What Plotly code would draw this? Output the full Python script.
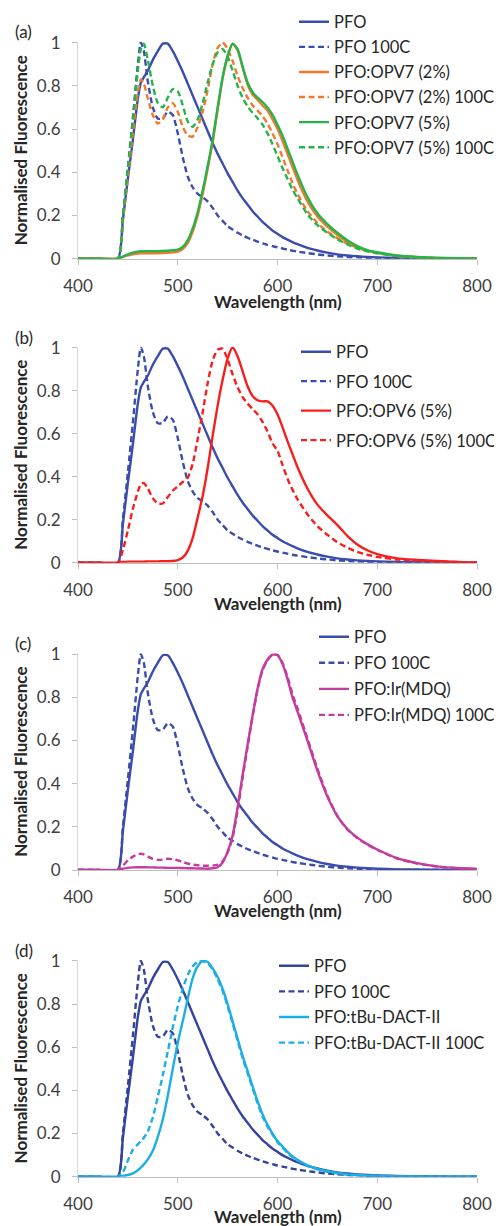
import plotly.graph_objects as go

# ---------------- data ----------------
wavelength = [400, 420, 440, 445, 450, 455, 460, 463, 466, 470, 475, 480, 485, 490, 495,
              500, 505, 510, 515, 520, 525, 530, 535, 540, 545, 550, 555, 560, 565, 570,
              575, 580, 585, 590, 595, 600, 605, 610, 615, 620, 630, 640, 650, 660, 670,
              680, 690, 700, 720, 740, 760, 780, 800]

pfo = [0, 0, 0, 0.18, 0.37, 0.55, 0.74, 0.815, 0.84, 0.87, 0.92, 0.96, 0.995, 0.995, 0.96,
       0.915, 0.865, 0.81, 0.755, 0.70, 0.645, 0.59, 0.535, 0.485, 0.44, 0.395, 0.355, 0.315, 0.28, 0.25,
       0.22, 0.195, 0.17, 0.15, 0.13, 0.115, 0.10, 0.088, 0.077, 0.067, 0.05, 0.038, 0.028, 0.02, 0.015,
       0.011, 0.008, 0.006, 0.003, 0.002, 0.001, 0, 0]

pfo_100c = [0, 0, 0, 0.2, 0.42, 0.65, 0.9, 1.0, 0.96, 0.82, 0.70, 0.648, 0.65, 0.68, 0.665,
            0.58, 0.47, 0.38, 0.33, 0.30, 0.285, 0.265, 0.235, 0.20, 0.175, 0.15, 0.135, 0.12, 0.108, 0.097,
            0.088, 0.079, 0.071, 0.064, 0.058, 0.052, 0.047, 0.042, 0.037, 0.033, 0.026, 0.02, 0.015, 0.011, 0.008,
            0.006, 0.004, 0.003, 0.001, 0, 0, 0, 0]

opv7_2 = [0, 0, 0, 0.008, 0.015, 0.02, 0.024, 0.025, 0.025, 0.025, 0.025, 0.025, 0.026, 0.027, 0.029,
          0.033, 0.045, 0.072, 0.125, 0.2, 0.30, 0.415, 0.54, 0.69, 0.835, 0.935, 0.995, 0.965, 0.885, 0.805,
          0.76, 0.735, 0.71, 0.685, 0.645, 0.60, 0.545, 0.485, 0.425, 0.365, 0.265, 0.195, 0.148, 0.11, 0.078,
          0.053, 0.037, 0.027, 0.013, 0.007, 0.003, 0.001, 0]

opv7_2_100c = [0, 0, 0, 0.18, 0.38, 0.58, 0.77, 0.83, 0.81, 0.74, 0.665, 0.625, 0.645, 0.70, 0.72,
               0.68, 0.61, 0.57, 0.565, 0.61, 0.68, 0.78, 0.90, 0.975, 1.0, 0.97, 0.915, 0.845, 0.79, 0.745,
               0.71, 0.685, 0.66, 0.625, 0.58, 0.53, 0.47, 0.41, 0.35, 0.30, 0.22, 0.165, 0.125, 0.095, 0.07,
               0.05, 0.036, 0.027, 0.013, 0.007, 0.003, 0.001, 0]

opv7_5 = [0, 0, 0, 0.01, 0.02, 0.028, 0.033, 0.035, 0.035, 0.035, 0.035, 0.035, 0.036, 0.037, 0.039,
          0.042, 0.055, 0.085, 0.14, 0.215, 0.315, 0.43, 0.55, 0.70, 0.84, 0.94, 0.995, 0.97, 0.89, 0.815,
          0.77, 0.745, 0.725, 0.70, 0.665, 0.62, 0.57, 0.51, 0.45, 0.39, 0.285, 0.21, 0.16, 0.12, 0.085,
          0.058, 0.04, 0.03, 0.015, 0.008, 0.004, 0.002, 0]

opv7_5_100c = [0, 0, 0, 0.2, 0.42, 0.64, 0.87, 0.97, 0.995, 0.92, 0.80, 0.72, 0.70, 0.745, 0.785,
               0.775, 0.71, 0.635, 0.61, 0.645, 0.72, 0.815, 0.90, 0.955, 0.97, 0.935, 0.87, 0.80, 0.745, 0.705,
               0.675, 0.65, 0.62, 0.58, 0.53, 0.475, 0.42, 0.37, 0.32, 0.28, 0.205, 0.155, 0.12, 0.09, 0.066,
               0.047, 0.034, 0.025, 0.012, 0.006, 0.003, 0.001, 0]

opv6_5 = [0, 0, 0, 0.003, 0.005, 0.005, 0.005, 0.005, 0.005, 0.006, 0.006, 0.006, 0.007, 0.007, 0.008,
          0.012, 0.024, 0.055, 0.115, 0.21, 0.31, 0.44, 0.59, 0.73, 0.85, 0.95, 1.0, 0.96, 0.89, 0.82,
          0.775, 0.755, 0.75, 0.75, 0.73, 0.69, 0.63, 0.565, 0.505, 0.445, 0.345, 0.27, 0.22, 0.175, 0.125,
          0.085, 0.058, 0.04, 0.02, 0.013, 0.008, 0.004, 0]

opv6_5_100c = [0, 0, 0, 0.06, 0.15, 0.25, 0.33, 0.365, 0.37, 0.345, 0.30, 0.275, 0.275, 0.305, 0.335,
               0.355, 0.375, 0.395, 0.46, 0.575, 0.70, 0.835, 0.94, 0.99, 0.995, 0.945, 0.875, 0.815, 0.77, 0.74,
               0.715, 0.69, 0.655, 0.61, 0.555, 0.52, 0.455, 0.39, 0.34, 0.295, 0.225, 0.17, 0.13, 0.095, 0.07,
               0.05, 0.037, 0.027, 0.015, 0.01, 0.006, 0.003, 0]

irmdq = [0, 0, 0, 0.006, 0.01, 0.012, 0.013, 0.013, 0.013, 0.012, 0.012, 0.011, 0.011, 0.01, 0.01,
         0.01, 0.009, 0.008, 0.008, 0.007, 0.007, 0.006, 0.008, 0.013, 0.035, 0.085, 0.16, 0.29, 0.44, 0.58,
         0.715, 0.84, 0.93, 0.975, 0.998, 0.995, 0.955, 0.885, 0.80, 0.735, 0.60, 0.46, 0.34, 0.25, 0.19,
         0.15, 0.12, 0.095, 0.055, 0.032, 0.017, 0.009, 0.005]

irmdq_100c = [0, 0, 0, 0.02, 0.045, 0.062, 0.073, 0.075, 0.072, 0.062, 0.052, 0.047, 0.048, 0.052, 0.05,
              0.045, 0.037, 0.03, 0.025, 0.022, 0.02, 0.02, 0.021, 0.025, 0.04, 0.08, 0.15, 0.275, 0.425, 0.57,
              0.71, 0.835, 0.925, 0.972, 0.997, 0.997, 0.96, 0.895, 0.815, 0.75, 0.61, 0.47, 0.345, 0.25, 0.188,
              0.148, 0.118, 0.093, 0.053, 0.03, 0.016, 0.008, 0.004]

dact = [0, 0, 0, 0.003, 0.008, 0.015, 0.03, 0.042, 0.057, 0.08, 0.12, 0.185, 0.265, 0.375, 0.50,
        0.62, 0.72, 0.825, 0.92, 0.975, 1.0, 0.995, 0.965, 0.925, 0.87, 0.80, 0.72, 0.64, 0.56, 0.49,
        0.42, 0.35, 0.29, 0.24, 0.20, 0.165, 0.14, 0.115, 0.095, 0.078, 0.053, 0.036, 0.025, 0.017, 0.011,
        0.008, 0.005, 0.004, 0.002, 0.001, 0, 0, 0]

dact_100c = [0, 0, 0, 0.02, 0.075, 0.125, 0.15, 0.165, 0.18, 0.21, 0.275, 0.37, 0.47, 0.58, 0.69,
             0.79, 0.87, 0.935, 0.975, 0.995, 0.998, 0.99, 0.96, 0.915, 0.86, 0.79, 0.71, 0.63, 0.55, 0.48,
             0.41, 0.34, 0.28, 0.232, 0.195, 0.16, 0.135, 0.11, 0.09, 0.075, 0.05, 0.034, 0.023, 0.016, 0.01,
             0.007, 0.005, 0.003, 0.002, 0.001, 0, 0, 0]

panel_labels = ["(a)", "(b)", "(c)", "(d)"]
x_title = "Wavelength (nm)"
y_title = "Normalised Fluorescence"
x_ticks = [400, 500, 600, 700, 800]
y_ticks = [0, 0.2, 0.4, 0.6, 0.8, 1]

# ---------------- styling ----------------
# the page body has an 8px default margin, so the figure is drawn 8px in from the window corner
OFF = 8
PAGE_W, PAGE_H = 502, 1226
W, H = PAGE_W - OFF, PAGE_H - OFF
BLUE = "#3A4DAE"
BLUE_D = "#34439E"
ORANGE = "#EF7A2E"
GREEN = "#26B44A"
RED = "#F5201E"
MAGENTA = "#C43C9E"
CYAN = "#1DAEE6"
FONT = "Lato"
TXT = "#404040"
DARK = "#262626"
LEG_FS = 16.5


def fx(px):
    return (px - OFF) / W


def fy(py):
    return 1 - (py - OFF) / H


panels = [
    [("PFO", pfo, BLUE, "solid"), ("PFO 100C", pfo_100c, BLUE, "dash"),
     ("PFO:OPV7 (2%)", opv7_2, ORANGE, "solid"), ("PFO:OPV7 (2%) 100C", opv7_2_100c, ORANGE, "dash"),
     ("PFO:OPV7 (5%)", opv7_5, GREEN, "solid"), ("PFO:OPV7 (5%) 100C", opv7_5_100c, GREEN, "dash")],
    [("PFO", pfo, BLUE, "solid"), ("PFO 100C", pfo_100c, BLUE, "dash"),
     ("PFO:OPV6 (5%)", opv6_5, RED, "solid"), ("PFO:OPV6 (5%) 100C", opv6_5_100c, RED, "dash")],
    [("PFO", pfo, BLUE, "solid"), ("PFO 100C", pfo_100c, BLUE, "dash"),
     ("PFO:Ir(MDQ)", irmdq, MAGENTA, "solid"), ("PFO:Ir(MDQ) 100C", irmdq_100c, MAGENTA, "dash")],
    [("PFO", pfo, BLUE_D, "solid"), ("PFO 100C", pfo_100c, BLUE_D, "dash"),
     ("PFO:tBu-DACT-II", dact, CYAN, "solid"), ("PFO:tBu-DACT-II 100C", dact_100c, CYAN, "dash")],
]

# plot areas in page pixels (top, bottom)
plot_px = [(41.7, 258.7), (346.7, 562.7), (653.3, 870.0), (960.0, 1176.7)]
x_px = (78.0, 477.0)
# legend: left, top (page px), group gap
legend_pos = [(294, 4.5, 0.65), (296, 334.5, 5.0), (314, 619.5, 1.6), (274, 948.5, 1.2)]
label_pos = [(13, 32), (13, 337), (13, 643), (13, 950)]
xtitle_off = [42.5, 40.5, 40.0, 40.0]

fig = go.Figure()
layout = dict(
    width=W, height=H, margin=dict(l=0, r=0, t=0, b=0, autoexpand=False),
    paper_bgcolor="white", plot_bgcolor="white", font=dict(family=FONT, size=17, color=TXT),
    annotations=[],
)

for i, series in enumerate(panels):
    n = "" if i == 0 else str(i + 1)
    xa, ya = "x" + n, "y" + n
    leg = "legend" + n
    for j, (name, vals, color, dash) in enumerate(series):
        fig.add_trace(go.Scatter(
            x=wavelength, y=vals, name=name, mode="lines",
            line=dict(color=color, width=2.4, dash="6px,3.5px" if dash == "dash" else "solid",
                      shape="spline", smoothing=0.6),
            xaxis=xa, yaxis=ya, legend=leg, legendgroup=f"g{i}_{j}", showlegend=True,
        ))
    top, bot = plot_px[i]
    layout["xaxis" + n] = dict(
        domain=[fx(x_px[0]), fx(x_px[1])], anchor=ya, range=[400, 800],
        tickvals=x_ticks, ticks="outside", ticklen=5, tickcolor="#BFBFBF", tickwidth=1,
        showline=True, linecolor="#BFBFBF", linewidth=1, showgrid=False, zeroline=False,
        tickfont=dict(size=17, color=TXT), ticklabelstandoff=7,
    )
    layout["yaxis" + n] = dict(
        domain=[fy(bot), fy(top)], anchor=xa, range=[0, 1.004],
        tickvals=y_ticks, ticks="outside", ticklen=5, tickcolor="#BFBFBF", tickwidth=1,
        showline=True, linecolor="#D9D9D9", linewidth=1, showgrid=False, zeroline=False,
        tickfont=dict(size=17, color=TXT), ticklabelstandoff=8,
        title=dict(text=f"<b>{y_title}</b>", font=dict(size=17, color=DARK), standoff=4),
    )
    lx, ly, gap = legend_pos[i]
    layout[leg] = dict(
        x=fx(lx), y=fy(ly), xanchor="left", yanchor="top", xref="paper", yref="paper",
        bgcolor="rgba(0,0,0,0)", borderwidth=0, tracegroupgap=gap, traceorder="grouped",
        font=dict(family=FONT, size=LEG_FS, color=DARK),
    )
    px, py = label_pos[i]
    layout["annotations"].append(dict(
        text=panel_labels[i], x=fx(px), y=fy(py), xref="paper", yref="paper",
        xanchor="left", yanchor="middle", showarrow=False,
        font=dict(family=FONT, size=17, color=DARK),
    ))
    # x-axis title placed directly under the tick labels, as in the original
    layout["annotations"].append(dict(
        text=f"<b>{x_title}</b>", x=fx((x_px[0] + x_px[1]) / 2), y=fy(bot + xtitle_off[i]),
        xref="paper", yref="paper", xanchor="center", yanchor="middle", showarrow=False,
        font=dict(family=FONT, size=17, color=DARK),
    ))

fig.update_layout(**layout)
fig.write_html("out.html")
